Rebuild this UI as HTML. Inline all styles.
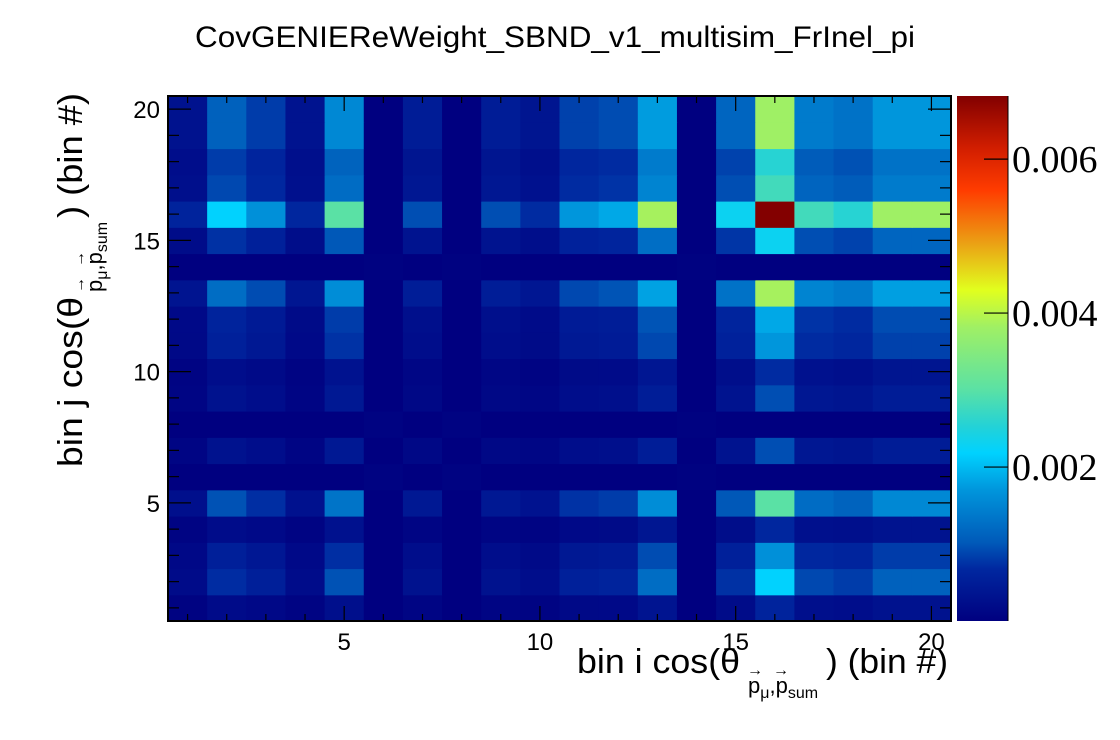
<!DOCTYPE html>
<html><head><meta charset="utf-8"><style>
html,body{margin:0;padding:0;background:#fff;}
svg{display:block;font-family:"Liberation Sans",sans-serif;}
</style></head><body>
<svg id="chart" width="1120" height="740" viewBox="0 0 1120 740" xmlns="http://www.w3.org/2000/svg">
<rect width="1120" height="740" fill="#fff"/>
<text x="555" y="47" font-size="30" text-anchor="middle" textLength="720" lengthAdjust="spacingAndGlyphs" fill="#000">CovGENIEReWeight_SBND_v1_multisim_FrInel_pi</text>
<g id="cells"></g>
<g id="axes"></g>
<defs><linearGradient id="pal" x1="0" y1="1" x2="0" y2="0"></linearGradient></defs>
<rect x="957" y="96" width="51" height="525" fill="url(#pal)"/>
<line x1="1008" y1="96" x2="1008" y2="621" stroke="#000" stroke-width="1"/>
<g id="zticks"></g>
<text font-size="34" fill="#000"><tspan x="577" y="673" textLength="163" lengthAdjust="spacingAndGlyphs">bin i cos(θ</tspan><tspan x="748" y="693" font-size="22">p</tspan><tspan font-size="16" dy="5">μ</tspan><tspan font-size="22" dy="-5">,p</tspan><tspan font-size="16" dy="5">sum</tspan><tspan x="826" y="673" textLength="122" lengthAdjust="spacingAndGlyphs">) (bin #)</tspan></text>
<text x="747" y="675" font-size="16">→</text>
<text x="773" y="675" font-size="16">→</text>
<g transform="translate(82,0) rotate(-90)">
<text font-size="34" fill="#000"><tspan x="-467" y="0" textLength="170" lengthAdjust="spacingAndGlyphs">bin j cos(θ</tspan><tspan x="-292" y="20" font-size="22">p</tspan><tspan font-size="16" dy="5">μ</tspan><tspan font-size="22" dy="-5">,p</tspan><tspan font-size="16" dy="5">sum</tspan><tspan x="-218" y="0" textLength="125" lengthAdjust="spacingAndGlyphs">) (bin #)</tspan></text>
<text x="-293" y="2" font-size="16">→</text>
<text x="-267" y="2" font-size="16">→</text>
</g>
</svg>
<script>
// values in units of 1e-3; rows are bin j = 1..20 (bottom to top), columns bin i = 1..20
const binsI = [1,2,3,4,5,6,7,8,9,10,11,12,13,14,15,16,17,18,19,20];
const binsJ = [1,2,3,4,5,6,7,8,9,10,11,12,13,14,15,16,17,18,19,20];
const xTicks = [5,10,15,20];
const yTicks = [5,10,15,20];
const zTicks = [0.002,0.004,0.006];
const zTickLabels = ["0.002","0.004","0.006"];
const zMax = 0.00682;
const row1  = [.05,.19,.14,.06,.26,0,.08,0,.08,.06,.15,.16,.34,0,.20,.60,.25,.23,.30,.30];
const row2  = [.19,.71,.53,.21,.97,0,.30,0,.30,.23,.55,.60,1.24,0,.74,2.19,.90,.82,1.10,1.10];
const row3  = [.14,.53,.40,.16,.72,0,.23,0,.23,.17,.41,.45,.93,0,.55,1.64,.67,.62,.82,.82];
const row4  = [.06,.21,.16,.06,.29,0,.09,0,.09,.07,.16,.18,.37,0,.22,.65,.27,.25,.33,.33];
const row5  = [.26,.97,.72,.29,1.32,0,.41,0,.41,.31,.75,.82,1.60,0,1.01,3.00,1.23,1.13,1.55,1.55];
const row6  = [0,0,0,0,0,.05,0,.05,0,0,0,0,0,.03,0,0,0,0,0,0];
const row7  = [.08,.30,.23,.09,.41,0,.13,0,.13,.10,.23,.26,.50,0,.32,.94,.39,.35,.47,.47];
const row8  = [0,0,0,0,0,.05,0,.05,0,0,0,0,0,.03,0,0,0,0,0,0];
const row9  = [.08,.30,.23,.09,.41,0,.13,0,.13,.10,.23,.26,.50,0,.32,.94,.39,.35,.47,.47];
const row10 = [.06,.23,.17,.07,.31,0,.10,0,.10,.07,.18,.19,.38,0,.24,.70,.29,.26,.35,.35];
const row11 = [.15,.55,.41,.16,.75,0,.23,0,.23,.18,.42,.46,.90,0,.57,1.70,.70,.64,.85,.85];
const row12 = [.16,.60,.45,.18,.82,0,.26,0,.26,.19,.46,.50,.98,0,.62,1.85,.76,.70,.93,.93];
const row13 = [.34,1.24,.93,.37,1.60,0,.50,0,.50,.38,.90,.98,1.80,0,1.30,3.86,1.50,1.40,1.78,1.78];
const row14 = [0,0,0,0,0,.03,0,.03,0,0,0,0,0,.03,0,0,0,0,0,0];
const row15 = [.20,.74,.55,.22,1.01,0,.32,0,.32,.24,.57,.62,1.25,0,.77,2.30,.94,.86,1.15,1.15];
const row16 = [.60,2.19,1.64,.65,3.00,0,.94,0,.94,.70,1.70,1.85,3.86,0,2.30,6.81,2.79,2.56,3.81,3.81];
const row17 = [.25,.90,.67,.27,1.23,0,.39,0,.39,.29,.70,.76,1.50,0,.94,2.79,1.14,1.05,1.40,1.40];
const row18 = [.23,.82,.62,.25,1.13,0,.35,0,.35,.26,.64,.70,1.40,0,.86,2.56,1.05,.96,1.30,1.30];
const row19 = [.30,1.10,.82,.33,1.55,0,.47,0,.47,.35,.85,.93,1.75,0,1.15,3.81,1.40,1.30,1.70,1.70];
const row20 = [.30,1.10,.82,.33,1.55,0,.47,0,.47,.35,.85,.93,1.75,0,1.15,3.81,1.40,1.30,1.70,1.70];
const rows = [row1,row2,row3,row4,row5,row6,row7,row8,row9,row10,row11,row12,row13,row14,row15,row16,row17,row18,row19,row20];

const NS = "http://www.w3.org/2000/svg";
const X0=168, X1=951, Y0=96, Y1=621;
const xScale = v => X0 + (v-0.5)/20*(X1-X0);
const yScale = v => Y1 - (v-0.5)/20*(Y1-Y0);
const zScale = v => Y1 - v/zMax*(Y1-Y0);
const stops = [[0,[0,0,128]],[0.1,[0,40,160]],[0.15,[0,90,185]],[0.25,[0,150,220]],[0.32,[0,210,255]],[0.37,[35,210,215]],[0.44,[90,225,165]],[0.56,[160,240,100]],[0.63,[225,255,30]],[0.72,[235,160,20]],[0.82,[255,60,0]],[0.9,[210,30,0]],[1,[130,0,0]]];
function color(f){
  f=Math.max(0,Math.min(1,f));
  for(let k=1;k<stops.length;k++){
    if(f<=stops[k][0]){
      const a=stops[k-1],b=stops[k],t=(f-a[0])/(b[0]-a[0]);
      const c=a[1].map((x,i)=>Math.round(x+(b[1][i]-x)*t));
      return `rgb(${c[0]},${c[1]},${c[2]})`;
    }
  }
  return "rgb(130,0,0)";
}
const grad=document.getElementById('pal');
stops.forEach(s=>{const st=document.createElementNS(NS,'stop');st.setAttribute('offset',s[0]);st.setAttribute('stop-color',`rgb(${s[1].join(',')})`);grad.appendChild(st);});

const cells=document.getElementById('cells');
const w=(X1-X0)/20, h=(Y1-Y0)/20;
binsJ.forEach((bj,ri)=>{
  binsI.forEach((bi,ci)=>{
    const v=rows[ri][ci]*1e-3;
    const r=document.createElementNS(NS,'rect');
    r.setAttribute('x',(xScale(bi)-w/2).toFixed(2));
    r.setAttribute('y',(yScale(bj)-h/2).toFixed(2));
    r.setAttribute('width',(w+0.6).toFixed(2));
    r.setAttribute('height',(h+0.6).toFixed(2));
    r.setAttribute('fill',color(v/zMax));
    
    
    cells.appendChild(r);
  });
});

const axes=document.getElementById('axes');
function line(x1,y1,x2,y2,sw){const l=document.createElementNS(NS,'line');l.setAttribute('x1',x1);l.setAttribute('y1',y1);l.setAttribute('x2',x2);l.setAttribute('y2',y2);l.setAttribute('stroke','#000');l.setAttribute('stroke-width',sw);axes.appendChild(l);}
const fr=document.createElementNS(NS,'rect');
fr.setAttribute('x',X0);fr.setAttribute('y',Y0);fr.setAttribute('width',X1-X0);fr.setAttribute('height',Y1-Y0);
fr.setAttribute('fill','none');fr.setAttribute('stroke','#000');fr.setAttribute('stroke-width','2');


axes.appendChild(fr);
binsI.forEach(b=>{
  const x=xScale(b), L=(b%5===0)?15:7;
  line(x,Y1,x,Y1-L,1.2); line(x,Y0,x,Y0+L,1.2);
});
binsJ.forEach(b=>{
  const y=yScale(b), L=(b%5===0)?23:11;
  line(X0,y,X0+L,y,1.2); line(X1,y,X1-L,y,1.2);
});
xTicks.forEach(t=>{
  const tx=document.createElementNS(NS,'text');
  tx.setAttribute('x',xScale(t));tx.setAttribute('y',650);tx.setAttribute('font-size','24');tx.setAttribute('text-anchor','middle');
  tx.textContent=t;
  
  
  axes.appendChild(tx);
});
yTicks.forEach(t=>{
  const tx=document.createElementNS(NS,'text');
  tx.setAttribute('x',160);tx.setAttribute('y',yScale(t)+9);tx.setAttribute('font-size','24');tx.setAttribute('text-anchor','end');
  tx.textContent=t;
  
  
  axes.appendChild(tx);
});
const zt=document.getElementById('zticks');
zTicks.forEach((t,i)=>{
  const y=zScale(t);
  const l=document.createElementNS(NS,'line');
  l.setAttribute('x1',984);l.setAttribute('x2',1008);l.setAttribute('y1',y);l.setAttribute('y2',y);l.setAttribute('stroke','#000');l.setAttribute('stroke-width','1.2');
  zt.appendChild(l);
  const tx=document.createElementNS(NS,'text');
  tx.setAttribute('x',1012);tx.setAttribute('y',y+13);tx.setAttribute('font-size','38');
  tx.setAttribute('font-family','"Liberation Serif",serif');
  tx.textContent=zTickLabels[i];
  
  
  zt.appendChild(tx);
});
</script>
</body></html>
